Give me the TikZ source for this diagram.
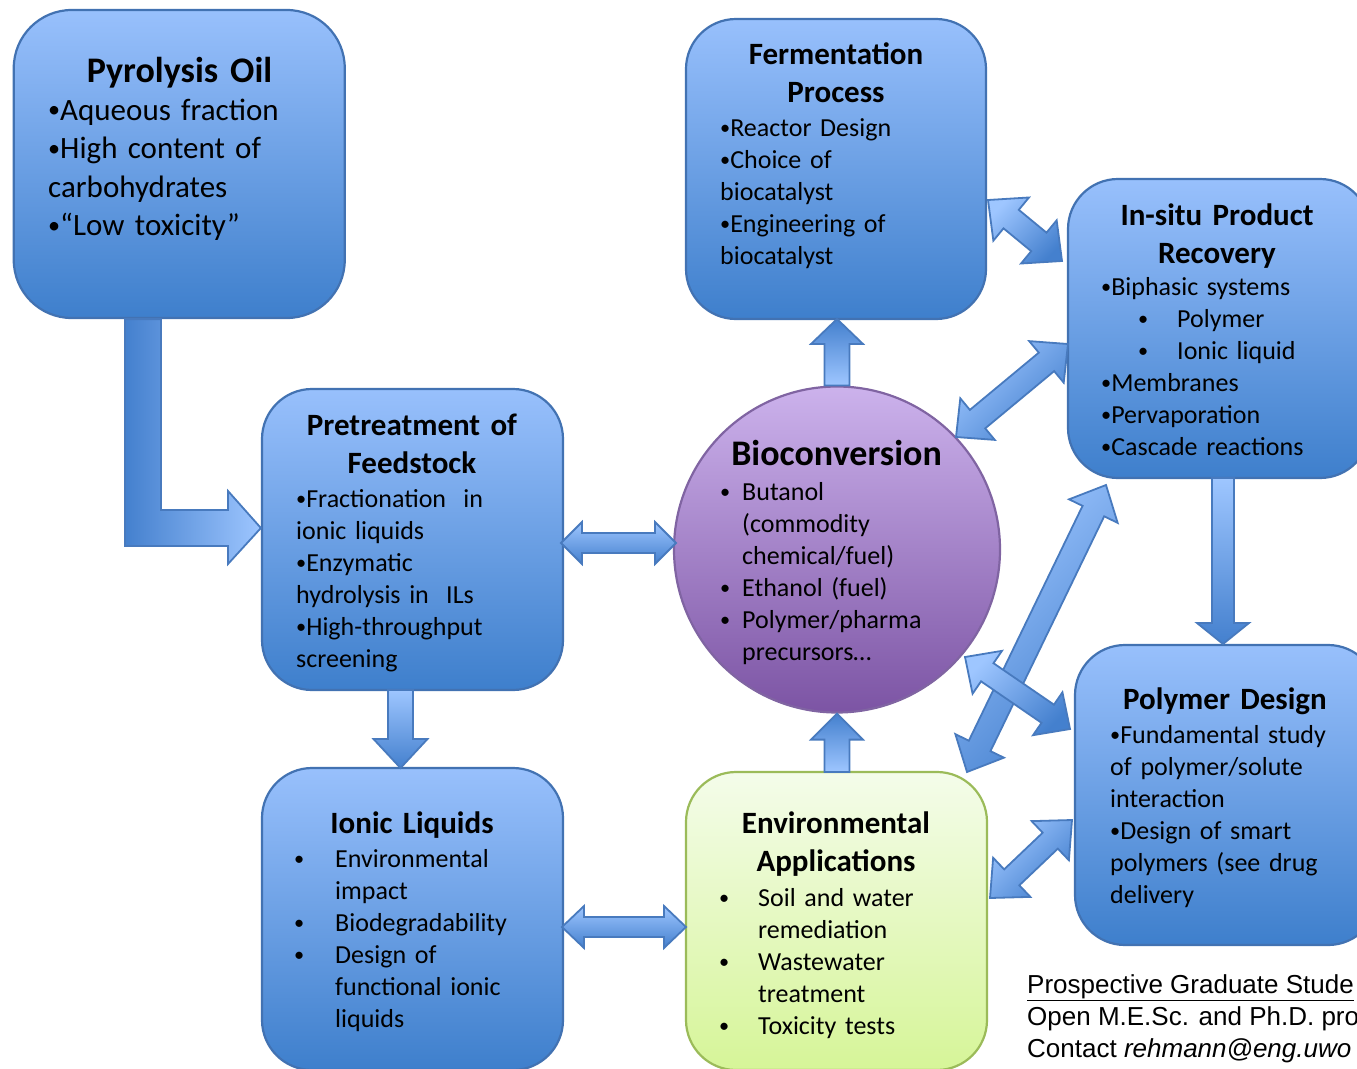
\documentclass[tikz,border=0pt]{standalone}
\usepackage{fontspec}
\usepackage{graphicx}
\setmainfont{Carlito}
\newfontfamily\arialfont{Liberation Sans}
\usetikzlibrary{calc}
\definecolor{boxtop}{RGB}{152,192,252}
\definecolor{boxbot}{RGB}{62,127,204}
\definecolor{boxline}{RGB}{66,114,178}
\definecolor{arrlight}{RGB}{158,198,255}
\definecolor{arrdark}{RGB}{68,128,206}
\definecolor{arrline}{RGB}{72,122,190}
\definecolor{envtop}{RGB}{244,252,234}
\definecolor{envbot}{RGB}{214,245,152}
\definecolor{envline}{RGB}{155,187,89}
\definecolor{biotop}{RGB}{204,178,236}
\definecolor{biobot}{RGB}{124,84,164}
\definecolor{bioline}{RGB}{128,100,162}
\newcommand\bul{\raisebox{0.07em}{\scalebox{0.78}{•}}}
\newcommand\bu[1]{\makebox[#1][l]{\bul}}
% double block arrow: #1 A, #2 B, #3 shaft half width, #4 head half width, #5 head length, #6 shading angle
\newcommand\dblarrow[6]{%
  \coordinate (HA) at ($(#1)!#5!(#2)$);
  \coordinate (HB) at ($(#2)!#5!(#1)$);
  \draw[blockarrow, shading angle=#6] (#1) -- ($(HA)!#4!90:(#2)$) -- ($(HA)!#3!90:(#2)$)
     -- ($(HB)!#3!-90:(#1)$) -- ($(HB)!#4!-90:(#1)$) -- (#2) -- ($(HB)!#4!90:(#1)$)
     -- ($(HB)!#3!90:(#1)$) -- ($(HA)!#3!-90:(#2)$) -- ($(HA)!#4!-90:(#2)$) -- cycle;
}
% single block arrow from #1 to #2
\newcommand\sglarrow[6]{%
  \coordinate (HB) at ($(#2)!#5!(#1)$);
  \draw[blockarrow, shading angle=#6] ($(#1)!#3!-90:(#2)$) -- ($(HB)!#3!90:(#1)$)
     -- ($(HB)!#4!90:(#1)$) -- (#2) -- ($(HB)!#4!-90:(#1)$) -- ($(HB)!#3!-90:(#1)$)
     -- ($(#1)!#3!90:(#2)$) -- cycle;
}
\tikzset{
  bluebox/.style={draw=boxline, line width=2.2pt, rounded corners=#1, top color=boxtop, bottom color=boxbot, inner sep=0pt},
  bluebox/.default=50pt,
  envbox/.style={draw=envline, line width=2.2pt, rounded corners=50pt, top color=envtop, bottom color=envbot, inner sep=0pt},
  biocircle/.style={circle, draw=bioline, line width=2.2pt, top color=biotop, bottom color=biobot, inner sep=0pt, minimum size=326pt},
  blockarrow/.style={draw=arrline, line width=1.8pt, line join=miter, top color=arrlight, bottom color=arrdark},
  bodytext/.style={inner sep=0pt, anchor=base west, align=left, text width=330pt, font=\fontsize{26}{32}\selectfont},
  ttl/.style={inner sep=0pt, anchor=base, align=center, text width=300pt, font=\fontsize{31}{38}\selectfont\bfseries},
  contact/.style={inner sep=0pt, anchor=base west, font=\arialfont\fontsize{26}{32}\selectfont},
}
\begin{document}
\begin{tikzpicture}[x=1pt, y=-1pt]
\useasboundingbox (0,0) rectangle (1357,1068);
\clip (0,0) rectangle (1357,1068);
\fill[white] (0,0) rectangle (1357,1068);

% boxes
\node[bluebox=58pt, minimum width=331pt, minimum height=308pt] (pyro) at (179.25,164) {};
\node[bluebox, minimum width=300pt, minimum height=300pt] (ferm) at (836,169) {};
\node[bluebox, minimum width=302pt, minimum height=299pt] (ispr) at (1219,328.5) {};
\node[bluebox, minimum width=301pt, minimum height=301pt] (pre) at (412.5,539.5) {};
\node[bluebox, minimum width=303pt, minimum height=300pt] (pd) at (1226.5,795) {};
\node[bluebox, minimum width=301pt, minimum height=302pt] (il) at (412.5,919) {};
\node[envbox, minimum width=301pt, minimum height=298pt] (env) at (836.5,921) {};
\node[biocircle] (bio) at (837,549.5) {};

% L-shaped arrow from pyrolysis oil to pretreatment
\draw[draw=arrline, line width=1.8pt, line join=miter, left color=arrdark, right color=arrlight]
  (pyro.south -| 125,0) -- (pyro.south -| 161,0) -- (161,510) -- (228,510) -- (228,491)
  -- (pre.west |- 0,528) -- (228,564) -- (228,546) -- (125,546) -- cycle;

% arrow end points
\coordinate (pbA) at (561,543);   \coordinate (pbB) at (676,543);
\coordinate (ieA) at (562,927);   \coordinate (ieB) at (686,927);
\coordinate (bfA) at (bio.north); \coordinate (bfB) at (837,319);
\coordinate (ebA) at (837,772);   \coordinate (ebB) at (bio.south);
\coordinate (piA) at (400.5,690); \coordinate (piB) at (400.5,768);
\coordinate (ipA) at (1223,478);  \coordinate (ipB) at (1223,644);
\coordinate (fiA) at (988,200);   \coordinate (fiB) at (1062,261);
\coordinate (biA) at (956,437);   \coordinate (biB) at (1068,344);
\coordinate (lgA) at (1106,485);  \coordinate (lgB) at (967,772);
\coordinate (bpA) at (965,657);   \coordinate (bpB) at (1070,729);
\coordinate (epA) at (990,898);   \coordinate (epB) at (1072,820);

\dblarrow{pbA}{pbB}{10pt}{21pt}{21pt}{0}
\dblarrow{ieA}{ieB}{10pt}{21pt}{22pt}{0}
\sglarrow{bfA}{bfB}{12.5pt}{26pt}{25pt}{180}
\sglarrow{ebA}{ebB}{12.5pt}{26pt}{26pt}{180}
\sglarrow{piA}{piB}{12.5pt}{27pt}{29pt}{0}
\sglarrow{ipA}{ipB}{11pt}{26pt}{21pt}{0}
\dblarrow{fiA}{fiB}{12pt}{28pt}{30pt}{45}
\dblarrow{biA}{biB}{12pt}{27pt}{28pt}{45}
\dblarrow{lgA}{lgB}{12pt}{27pt}{29pt}{45}
\dblarrow{bpA}{bpB}{11pt}{26pt}{27pt}{45}
\dblarrow{epA}{epB}{11pt}{27pt}{30pt}{45}

% texts
\node[ttl, font=\fontsize{36}{42}\selectfont\bfseries] (pyroT) at (179.5,82) {Pyrolysis Oil};
\node[bodytext, font=\fontsize{31}{38.5}\selectfont] (pyroB) at (48,120)
  {\bul Aqueous fraction\\\bul High content of\\carbohydrates\\\bul “Low toxicity”};

\node[ttl] (fermT) at (836,64) {Fermentation\\Process};
\node[bodytext] (fermB) at (720,136)
  {\bul Reactor Design\\\bul Choice of\\biocatalyst\\\bul Engineering of\\biocatalyst};

\node[ttl] (isprT) at (1217,225) {In-situ Product\\Recovery};
\node[bodytext] (isprB) at (1101,295)
  {\bul Biphasic systems\\\hspace*{37pt}\bu{39pt}Polymer\\\hspace*{37pt}\bu{39pt}Ionic liquid\\\bul Membranes\\\bul Pervaporation\\\bul Cascade reactions};

\node[ttl] (preT) at (412,435) {Pretreatment of\\Feedstock};
\node[bodytext] (preB) at (296,507)
  {\bul Fractionation~ in\\ionic liquids\\\bul Enzymatic\\hydrolysis in~ ILs\\\bul High-throughput\\screening};

\node[ttl, font=\fontsize{36}{42}\selectfont\bfseries] (bioT) at (836.5,465) {Bioconversion};
\node[bodytext] (bioB) at (720,500)
  {\bu{22pt}Butanol\\\hspace*{22pt}(commodity\\\hspace*{22pt}chemical/fuel)\\\bu{22pt}Ethanol (fuel)\\\bu{22pt}Polymer/pharma\\\hspace*{22pt}precursors…};

\node[ttl] (pdT) at (1225,709) {Polymer Design};
\node[bodytext] (pdB) at (1110,743)
  {\bul Fundamental study\\of polymer/solute\\interaction\\\bul Design of smart\\polymers (see drug\\delivery};

\node[ttl] (ilT) at (412,833) {Ionic Liquids};
\node[bodytext] (ilB) at (294,867)
  {\bu{41pt}Environmental\\\hspace*{41pt}impact\\\bu{41pt}Biodegradability\\\bu{41pt}Design of\\\hspace*{41pt}functional ionic\\\hspace*{41pt}liquids};

\node[ttl] (envT) at (836,833) {Environmental\\Applications};
\node[bodytext] (envB) at (719,906)
  {\bu{39pt}Soil and water\\\hspace*{39pt}remediation\\\bu{39pt}Wastewater\\\hspace*{39pt}treatment\\\bu{39pt}Toxicity tests};

\node[contact] (c1) at (1027,993) {\underline{Prospective Graduate Stude}};
\node[contact] (c2) at (1027,1025) {Open M.E.Sc. and Ph.D. pro};
\node[contact] (c3) at (1027,1057) {Contact \textit{rehmann@eng.uwo}};
\end{tikzpicture}
\end{document}
